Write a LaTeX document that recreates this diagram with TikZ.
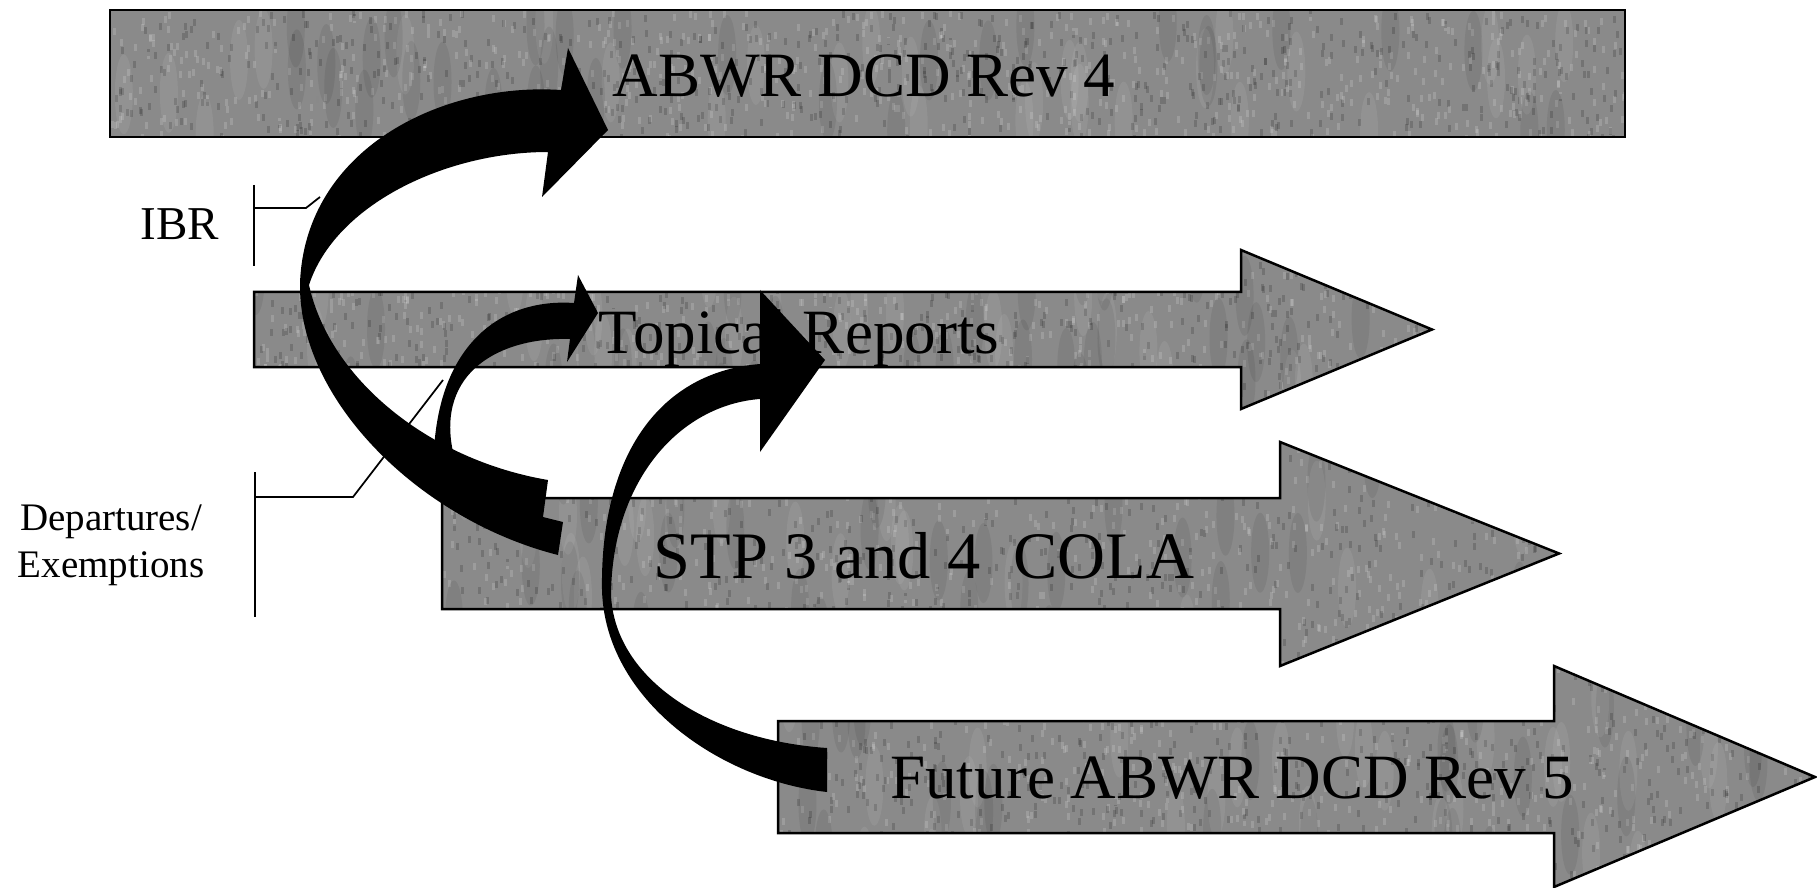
\documentclass[tikz,border=0pt]{standalone}
\usepackage{fontspec}
\setmainfont{Liberation Serif}
\usetikzlibrary{calc}
\definecolor{cgranite}{HTML}{8A8A8A}
\tikzset{
  slab/.style={draw=black, line width=0.05cm},
  ribbon/.style={fill=black},
  bartext/.style={anchor=base, inner sep=0pt, font=\fontsize{35.9pt}{40pt}\selectfont},
  sidetext/.style={anchor=base, inner sep=0pt, align=center},
  bracket/.style={draw=black, line width=0.035cm},
}
\newcommand{\granite}[5]{%
  \foreach \k in {1,...,#5}{%
    \pgfmathsetmacro{\gx}{#1+rnd*(#2-#1)}%
    \pgfmathsetmacro{\gy}{#3+rnd*(#4-#3)}%
    \pgfmathtruncatemacro{\gt}{rnd<0.5 ? 0 : 100}%
    \fill[black!\gt, opacity=0.16] (\gx,\gy) rectangle ++(3,7);
  }
  \foreach \k in {1,...,60}{%
    \pgfmathsetmacro{\gx}{#1+rnd*(#2-#1)}%
    \pgfmathsetmacro{\gy}{#3+rnd*(#4-#3)}%
    \pgfmathtruncatemacro{\gt}{rnd<0.5 ? 0 : 100}%
    \fill[black!\gt, opacity=0.07] (\gx,\gy) ellipse (9 and 40);
  }}
\newcommand{\bararrow}[7]{%
  \begin{scope}
    \clip (#1,#4) -- (#2,#4) -- (#2,#6) -- ({#3},{(#4+#5)/2}) -- (#2,#7) -- (#2,#5) -- (#1,#5) -- cycle;
    \fill[cgranite] (#1,#6) rectangle (#3,#7);
    \granite{#1}{#3}{#6}{#7}{1200}
  \end{scope}
  \draw[slab] (#1,#4) -- (#2,#4) -- (#2,#6) -- ({#3},{(#4+#5)/2}) -- (#2,#7) -- (#2,#5) -- (#1,#5) -- cycle;}

\begin{document}
\begin{tikzpicture}[x=0.02cm, y=-0.02cm]
  \useasboundingbox (0,0) rectangle (1817,888);
  \pgfmathsetseed{11}
  \begin{scope}
    \clip (110,10) rectangle (1625,137);
    \fill[cgranite] (110,10) rectangle (1625,137);
    \granite{110}{1625}{10}{137}{1300}
  \end{scope}
  \draw[slab] (110,10) rectangle (1625,137);
  \bararrow{254}{1241}{1432}{292}{367}{250}{409}
  \bararrow{442}{1280}{1559}{498}{609}{442}{666}
  \bararrow{778}{1554}{1815}{721}{833}{666}{887}
  \node[bartext] (rev4) at (864,97) {ABWR DCD Rev 4};
  \node[bartext] (topical) at (799,353) {Topical Reports};
  \node[bartext, font=\fontsize{37.8pt}{42pt}\selectfont] (cola) at (924,578) {STP 3 and 4\ \ COLA};
  \node[bartext] (rev5) at (1232,798) {Future ABWR DCD Rev 5};
  \node[sidetext, font=\fontsize{26.8pt}{30pt}\selectfont] (ibr) at (180,240) {IBR};
  \node[sidetext, font=\fontsize{22.2pt}{26.5pt}\selectfont] (depart) at (111,577) {Departures/\\Exemptions};
  \coordinate (ibrhook) at (320,197);
  \coordinate (dephook) at (443,380);
  \draw[bracket] (254,185) -- (254,266);
  \draw[bracket] (254,208) -- (306,208) -- (ibrhook);
  \draw[bracket] (255,472) -- (255,617);
  \draw[bracket] (255,497) -- (353,497) -- (dephook);
  \fill[ribbon] (568,48) -- (608,130) -- (542,197) -- (548,152)
    .. controls (445,152) and (335,205) .. (309,285)
    .. controls (330,380) and (430,460) .. (548,480)
    -- (543,517) -- (563,522) -- (558,555)
    .. controls (420,520) and (298,400) .. (300,283)
    .. controls (305,150) and (440,82) .. (561,90)
    -- cycle;
  \fill[ribbon] (578,275) -- (598,313) -- (567,362) -- (570,339)
    .. controls (500,337) and (436,372) .. (453,452)
    -- (434,450)
    .. controls (440,345) and (500,298) .. (574,303)
    -- cycle;
  \fill[ribbon] (760,290) -- (825,360) -- (760,452) -- (760,399)
    .. controls (680,405) and (612,480) .. (611,595)
    .. controls (615,680) and (710,740) .. (827,748)
    -- (827,792)
    .. controls (720,780) and (605,700) .. (602,590)
    .. controls (600,455) and (660,372) .. (760,364)
    -- cycle;
\end{tikzpicture}
\end{document}
